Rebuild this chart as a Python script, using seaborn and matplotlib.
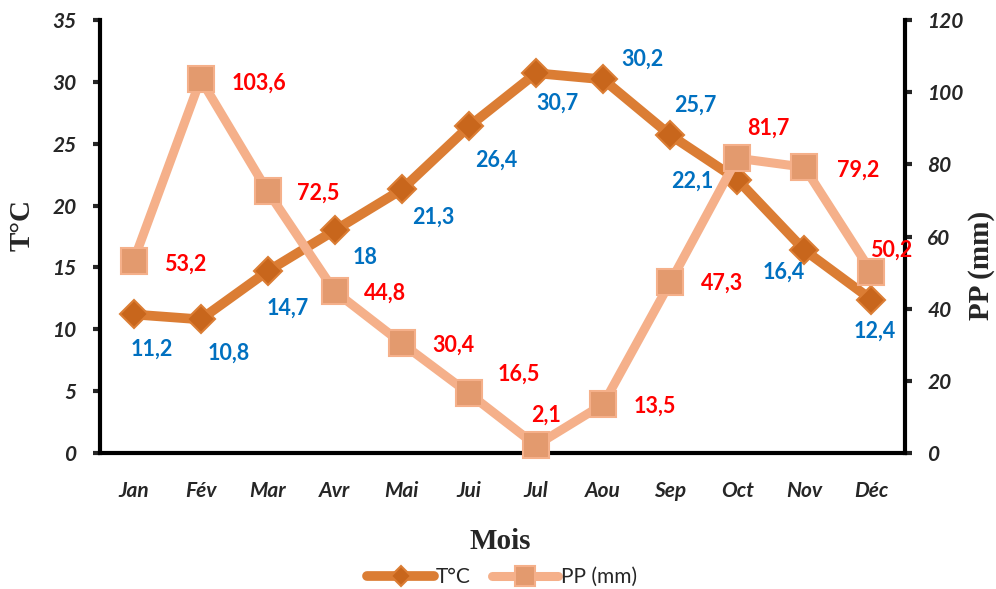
import pandas as pd
import matplotlib
matplotlib.use("Agg")
import matplotlib.pyplot as plt
import seaborn as sns

# ---- data ----
months = ["Jan", "Fév", "Mar", "Avr", "Mai", "Jui", "Jul", "Aou", "Sep", "Oct", "Nov", "Déc"]
temp = [11.2, 10.8, 14.7, 18.0, 21.3, 26.4, 30.7, 30.2, 25.7, 22.1, 16.4, 12.4]
pp = [53.2, 103.6, 72.5, 44.8, 30.4, 16.5, 2.1, 13.5, 47.3, 81.7, 79.2, 50.2]

df = pd.DataFrame({"mois": months, "temp": temp, "pp": pp})

# label offsets in pixels (dx right, dy down)
temp_off = [(18, 35), (28, 34), (20, 37), (30, 27), (31, 28), (27, 34),
            (21, 30), (39, -20), (25, -30), (-45, 2), (-21, 22), (3, 32)]
pp_off = [(52, 3), (58, 4), (50, 2), (50, 2), (52, 2), (50, -19),
          (10, -30), (52, 2), (52, 1), (31, -30), (54, 3), (20, -22)]

sns.set_style("white")
plt.rcParams["font.family"] = ["Lato", "DejaVu Sans"]

fig = plt.figure(figsize=(9.96, 5.89), dpi=100)
ax = fig.add_axes([100 / 996, 1 - 453 / 589, 805 / 996, 433 / 589])
ax2 = ax.twinx()

c_temp, c_temp_mk = "#DB7D34", "#C8661C"
c_pp, c_pp_mk = "#F5B08A", "#E39A6E"

sns.lineplot(data=df, x="mois", y="temp", ax=ax, sort=False, color=c_temp,
             linewidth=7, marker="D", markersize=14, markerfacecolor=c_temp_mk,
             markeredgecolor=c_temp, markeredgewidth=1.5, label="T°C",
             legend=False, clip_on=False, zorder=3)
sns.lineplot(data=df, x="mois", y="pp", ax=ax2, sort=False, color=c_pp,
             linewidth=6.5, marker="s", markersize=19, markerfacecolor=c_pp_mk,
             markeredgecolor=c_pp, markeredgewidth=1.5, label="PP (mm)",
             legend=False, clip_on=False, zorder=3)

ax.set_xlim(-0.5, len(months) - 0.5)
ax.set_ylim(0, 35)
ax2.set_ylim(0, 120)
ax.set_yticks(range(0, 36, 5))
ax2.set_yticks(range(0, 121, 20))

# data labels
for i, (v, (dx, dy)) in enumerate(zip(temp, temp_off)):
    ax.annotate(f"{v:g}".replace(".", ","), (i, v), xytext=(dx * 0.72, -dy * 0.72),
                textcoords="offset points", ha="center", va="center",
                color="#0070C0", fontsize=15.5, fontweight="bold", zorder=5)
for i, (v, (dx, dy)) in enumerate(zip(pp, pp_off)):
    ax2.annotate(f"{v:g}".replace(".", ","), (i, v), xytext=(dx * 0.72, -dy * 0.72),
                 textcoords="offset points", ha="center", va="center",
                 color="#FF0000", fontsize=15.5, fontweight="bold", zorder=5,
                 annotation_clip=False)

# spines and ticks
for a in (ax, ax2):
    a.spines["top"].set_visible(False)
    for s in ("left", "right", "bottom"):
        a.spines[s].set_linewidth(3)
        a.spines[s].set_color("black")
ax.spines["right"].set_visible(False)
ax2.spines["left"].set_visible(False)
ax2.spines["bottom"].set_visible(False)

ax.tick_params(axis="y", direction="out", length=5, width=3, pad=12, left=True)
ax.tick_params(axis="x", length=0, pad=20)
ax2.tick_params(axis="y", direction="out", length=5, width=3, pad=11, right=True)
for lab in ax.get_yticklabels() + ax.get_xticklabels() + ax2.get_yticklabels():
    lab.set_fontsize(15)
    lab.set_fontweight("bold")
    lab.set_fontstyle("italic")

serif = dict(family="Liberation Serif", fontweight="bold", fontsize=21)
ax.set_xlabel("Mois", **serif)
ax.set_ylabel("T°C", **serif)
ax2.set_ylabel("PP (mm)", **serif)
ax.xaxis.set_label_coords(0.497, -0.173)
ax.yaxis.set_label_coords(-0.080, 0.527)
ax2.yaxis.set_label_coords(1.078, 0.434)

h1, l1 = ax.get_legend_handles_labels()
h2, l2 = ax2.get_legend_handles_labels()
fig.legend(h1 + h2, l1 + l2, loc="center", bbox_to_anchor=(0.504, 1 - 577 / 589),
           ncol=2, frameon=False, fontsize=15, handlelength=3.2,
           columnspacing=1.0, handletextpad=0.1, markerscale=0.75)

fig.savefig("out.png", dpi=100)
